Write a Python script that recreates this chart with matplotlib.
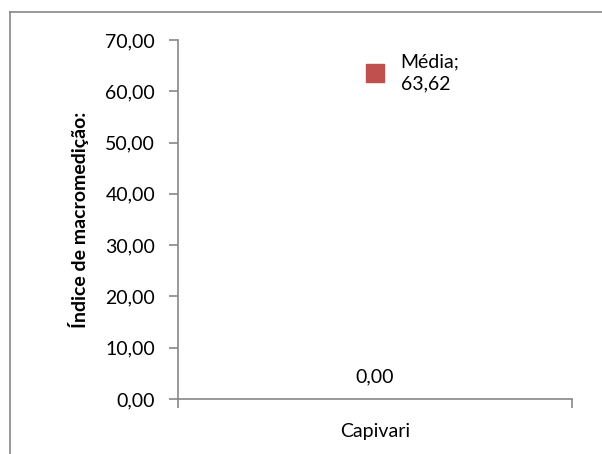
import matplotlib.pyplot as plt
from matplotlib.lines import Line2D

categories = ['Capivari']
media = [63.62]
zero_series = [0.00]
y_ticks = [0, 10, 20, 30, 40, 50, 60, 70]

plt.rcParams['font.family'] = ['Lato', 'DejaVu Sans']

fig = plt.figure(figsize=(6.02, 4.54), dpi=100)
ax = fig.add_axes([178 / 602, 55 / 454, 394 / 602, 359 / 454])

# outer chart frame (only left and top edges visible)
fig.add_artist(Line2D([10 / 602, 10 / 602], [0, 1 - 12 / 454], transform=fig.transFigure, color='#888888', lw=1.2))
fig.add_artist(Line2D([10 / 602, 1], [1 - 12 / 454, 1 - 12 / 454], transform=fig.transFigure, color='#888888', lw=1.2))

x = [i + 0.5 for i in range(len(categories))]
ax.scatter(x, media, marker='s', s=165, color='#C0504D', zorder=3)
for xi, v in zip(x, media):
    ax.text(xi + 0.065, v, 'Média;\n' + f'{v:.2f}'.replace('.', ','), fontsize=14,
            ha='left', va='center', linespacing=1.4)
for xi, v in zip(x, zero_series):
    ax.text(xi, v + 4.4, f'{v:.2f}'.replace('.', ','), fontsize=14, ha='center', va='center')

ax.set_xlim(0, len(categories))
ax.set_ylim(0, 70)
ax.set_yticks(y_ticks)
ax.set_yticklabels([f'{t:.2f}'.replace('.', ',') for t in y_ticks], fontsize=14)
ax.set_xticks(x)
ax.set_xticklabels(categories, fontsize=14)
ax.set_xticks([0, len(categories)], minor=True)
ax.tick_params(axis='x', which='major', length=0, pad=17)
ax.tick_params(axis='x', which='minor', length=6.5, color='#888888', width=1.2)
ax.tick_params(axis='y', length=6.5, color='#888888', width=1.2, pad=10)

for s in ['top', 'right']:
    ax.spines[s].set_visible(False)
for s in ['left', 'bottom']:
    ax.spines[s].set_color('#888888')
    ax.spines[s].set_linewidth(1.2)

ax.set_ylabel('Índice de macromedição:', fontsize=14, fontweight='bold', labelpad=12)

fig.savefig('out.png', dpi=100)
